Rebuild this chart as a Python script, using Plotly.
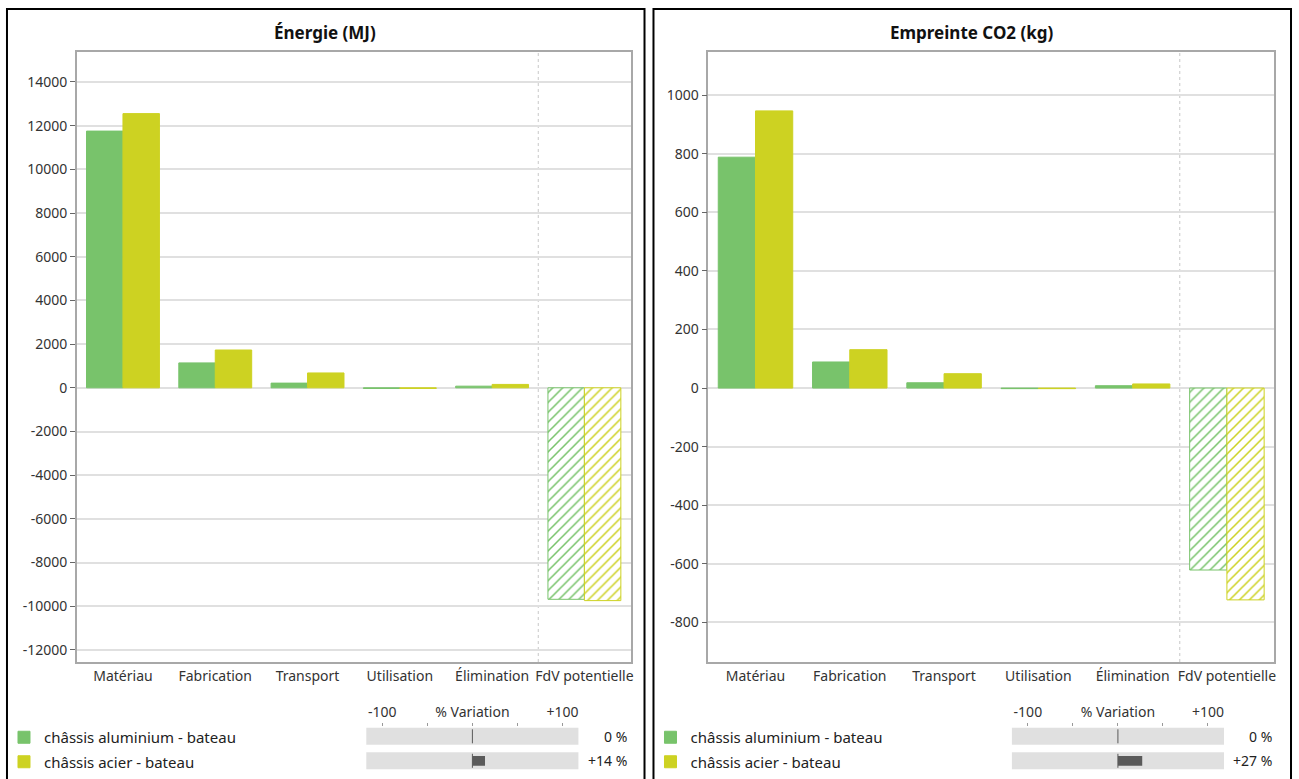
import plotly.graph_objects as go

# --- data ---
categories = ["Matériau", "Fabrication", "Transport", "Utilisation", "Élimination", "FdV potentielle"]
series_names = ["châssis aluminium - bateau", "châssis acier - bateau"]

energie_alu = [11750, 1140, 215, -30, 75, -9680]
energie_acier = [12550, 1730, 680, -30, 155, -9740]
co2_alu = [788, 89, 18, -2, 8, -621]
co2_acier = [946, 131, 49, -2, 14, -723]

energie_ticks = [-12000, -10000, -8000, -6000, -4000, -2000, 0,
                 2000, 4000, 6000, 8000, 10000, 12000, 14000]
co2_ticks = [-800, -600, -400, -200, 0, 200, 400, 600, 800, 1000]

variation_energie = [0, 14]
variation_co2 = [0, 27]

variation_ticks = [-100, -50, 0, 50, 100]
variation_ticktext = ["-100", "", "% Variation", "", "+100"]

colors = ["#78C36B", "#CDD222"]
hatch = ["", "", "", "", "", "/"]   # end-of-life credit drawn hatched

W, H = 1299, 779
FONT = "Noto Sans"
GRID = "#E0E0E0"
FRAME = "#A8A8A8"


def px_x(p):
    return p / W


def px_y(p):
    return 1 - p / H


fig = go.Figure()

# main bars, one pair of traces per panel
panels = [
    dict(xa="x", ya="y", legend="legend", data=[energie_alu, energie_acier]),
    dict(xa="x2", ya="y2", legend="legend2", data=[co2_alu, co2_acier]),
]
for p in panels:
    for i, vals in enumerate(p["data"]):
        fig.add_trace(go.Bar(
            x=categories, y=vals, name=series_names[i],
            xaxis=p["xa"], yaxis=p["ya"], legend=p["legend"],
            legendgroup=p["legend"] + str(i),
            marker=dict(color=colors[i], line=dict(color=colors[i], width=1),
                        pattern=dict(shape=hatch, fillmode="replace", bgcolor="white",
                                     size=7, solidity=0.22)),
            hoverinfo="x+y",
        ))

# % variation strips under each panel
var_panels = [
    dict(xa="x3", ya="y3", vals=variation_energie, text_x=630),
    dict(xa="x4", ya="y4", vals=variation_co2, text_x=1277),
]
rows = list(range(len(series_names)))
for vp in var_panels:
    fig.add_trace(go.Bar(
        y=rows, x=[236] * len(rows), base=-118, orientation="h",
        xaxis=vp["xa"], yaxis=vp["ya"], width=0.69, offset=-0.345,
        marker=dict(color="#E0E0E0", line=dict(width=0)),
        showlegend=False, hoverinfo="skip",
    ))
    fig.add_trace(go.Bar(
        y=rows, x=vp["vals"], base=0, orientation="h",
        xaxis=vp["xa"], yaxis=vp["ya"], width=0.4, offset=-0.2,
        marker=dict(color="#5A5A5A", line=dict(width=0)),
        showlegend=False, hoverinfo="x",
    ))
    fig.add_trace(go.Scatter(
        y=rows, x=[0] * len(rows), mode="markers",
        xaxis=vp["xa"], yaxis=vp["ya"],
        marker=dict(symbol="line-ns", size=10, line=dict(color="#5A5A5A", width=1)),
        showlegend=False, hoverinfo="skip",
    ))
    for r, v in zip(rows, vp["vals"]):
        fig.add_annotation(
            x=px_x(vp["text_x"]), xref="paper", xanchor="right",
            y=r, yref=vp["ya"], yanchor="middle",
            text=("0 %" if v == 0 else f"{v:+d} %"), showarrow=False,
            font=dict(family=FONT, size=14, color="#222"),
        )

axis_font = dict(family=FONT, size=14, color="#333")


def main_xaxis(domain, anchor):
    return dict(domain=domain, anchor=anchor, type="category",
                showline=True, linecolor=FRAME, linewidth=1.5, mirror=True,
                showgrid=False, ticks="", tickfont=axis_font, fixedrange=True)


def main_yaxis(domain, anchor, rng, ticks):
    return dict(domain=domain, anchor=anchor, range=rng,
                tickvals=ticks, ticktext=[str(t) for t in ticks],
                showline=True, linecolor=FRAME, linewidth=1.5, mirror=True,
                showgrid=True, gridcolor=GRID, gridwidth=2,
                zeroline=True, zerolinecolor=GRID, zerolinewidth=2,
                ticks="outside", ticklen=5, tickcolor="#666",
                tickfont=axis_font, fixedrange=True)


def var_xaxis(domain, anchor):
    return dict(domain=domain, anchor=anchor, side="top", range=[-118, 118],
                tickvals=variation_ticks, ticktext=variation_ticktext,
                ticks="outside", ticklen=3, tickcolor="#999",
                showgrid=False, zeroline=False, showline=False,
                tickfont=axis_font, fixedrange=True)


def var_yaxis(domain, anchor):
    return dict(domain=domain, anchor=anchor, range=[1.6, -0.38],
                visible=False, fixedrange=True)


plot_y = [px_y(662), px_y(52)]
var_y = [px_y(775.5), px_y(727)]
legend_font = dict(family=FONT, size=15, color="#222")

fig.update_layout(
    width=W, height=H,
    margin=dict(l=0, r=0, t=0, b=0),
    paper_bgcolor="white", plot_bgcolor="white",
    font=dict(family=FONT, size=14, color="#222"),
    barmode="group", bargap=0.21, bargroupgap=0,
    xaxis=main_xaxis([px_x(77), px_x(632)], "y"),
    yaxis=main_yaxis(plot_y, "x", [-12550, 15370], energie_ticks),
    xaxis2=main_xaxis([px_x(710), px_x(1277)], "y2"),
    yaxis2=main_yaxis(plot_y, "x2", [-935, 1147], co2_ticks),
    xaxis3=var_xaxis([px_x(367), px_x(580)], "y3"),
    yaxis3=var_yaxis(var_y, "x3"),
    xaxis4=var_xaxis([px_x(1014), px_x(1227)], "y4"),
    yaxis4=var_yaxis(var_y, "x4"),
    legend=dict(x=px_x(4), y=px_y(721), xanchor="left", yanchor="top",
                traceorder="grouped", tracegroupgap=2, bgcolor="rgba(0,0,0,0)",
                font=legend_font, itemwidth=30),
    legend2=dict(x=px_x(652), y=px_y(721), xanchor="left", yanchor="top",
                 traceorder="grouped", tracegroupgap=2, bgcolor="rgba(0,0,0,0)",
                 font=legend_font, itemwidth=30),
)

# panel titles
for title, cx in [("Énergie (MJ)", 326), ("Empreinte CO2 (kg)", 974)]:
    fig.add_annotation(x=px_x(cx), y=px_y(33), xref="paper", yref="paper",
                       xanchor="center", yanchor="middle",
                       text=f"<b>{title}</b>", showarrow=False,
                       font=dict(family=FONT, size=17, color="#111"))

# separator between life-cycle phases and end-of-life potential
sep = len(categories) - 1.5
for xa, ya in [("x", "y domain"), ("x2", "y2 domain")]:
    fig.add_shape(type="line", xref=xa, yref=ya, x0=sep, x1=sep, y0=0, y1=1,
                  line=dict(color="#C8C8C8", width=1, dash="dot"), layer="below")

# black panel frames
for x0, x1 in [(7, 646), (655, 1294)]:
    fig.add_shape(type="rect", xref="paper", yref="paper",
                  x0=px_x(x0), x1=px_x(x1), y0=-0.05, y1=px_y(9),
                  line=dict(color="black", width=2), fillcolor="rgba(0,0,0,0)")

# page body has a default margin; drop it so the figure sits at the corner
fig.write_html("out.html", config={"displayModeBar": False},
               post_script="document.body.style.margin='0';")
